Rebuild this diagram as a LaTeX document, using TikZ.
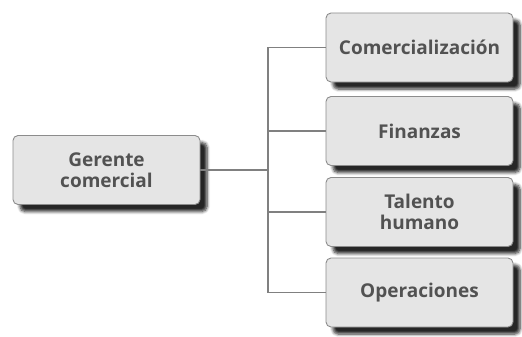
\documentclass[tikz,border=0pt]{standalone}
\usepackage{fontspec}
\setmainfont{Open Sans}
\usetikzlibrary{shadows.blur}
\tikzset{
  unitbox/.style={draw=black!45, line width=0.9pt, fill=black!10, rounded corners=5pt,
    minimum width=187pt, minimum height=69pt, align=center, text=black!68,
    font=\fontsize{19}{21}\selectfont\bfseries,
    blur shadow={shadow xshift=7pt, shadow yshift=-7pt, shadow blur steps=6, shadow blur radius=3pt, shadow opacity=85}},
  link/.style={draw=black!50, line width=1.3pt}
}
\begin{document}
\begin{tikzpicture}[x=1pt,y=-1pt]
\useasboundingbox (0,0) rectangle (522,337);
\node[unitbox] (ger) at (106.5,170) {Gerente\\comercial};
\node[unitbox] (com) at (419.5,47.5) {Comercialización};
\node[unitbox] (fin) at (419.5,131) {Finanzas};
\node[unitbox] (tal) at (419.5,212) {Talento\\humano};
\node[unitbox] (ope) at (419.5,292.5) {Operaciones};
\coordinate (hub) at (268,170);
\draw[link] (ger.east) -- (hub);
\draw[link] (com.west) -| (hub) |- (ope.west);
\draw[link] (fin.west) -- (fin.west -| hub);
\draw[link] (tal.west) -- (tal.west -| hub);
\end{tikzpicture}
\end{document}
